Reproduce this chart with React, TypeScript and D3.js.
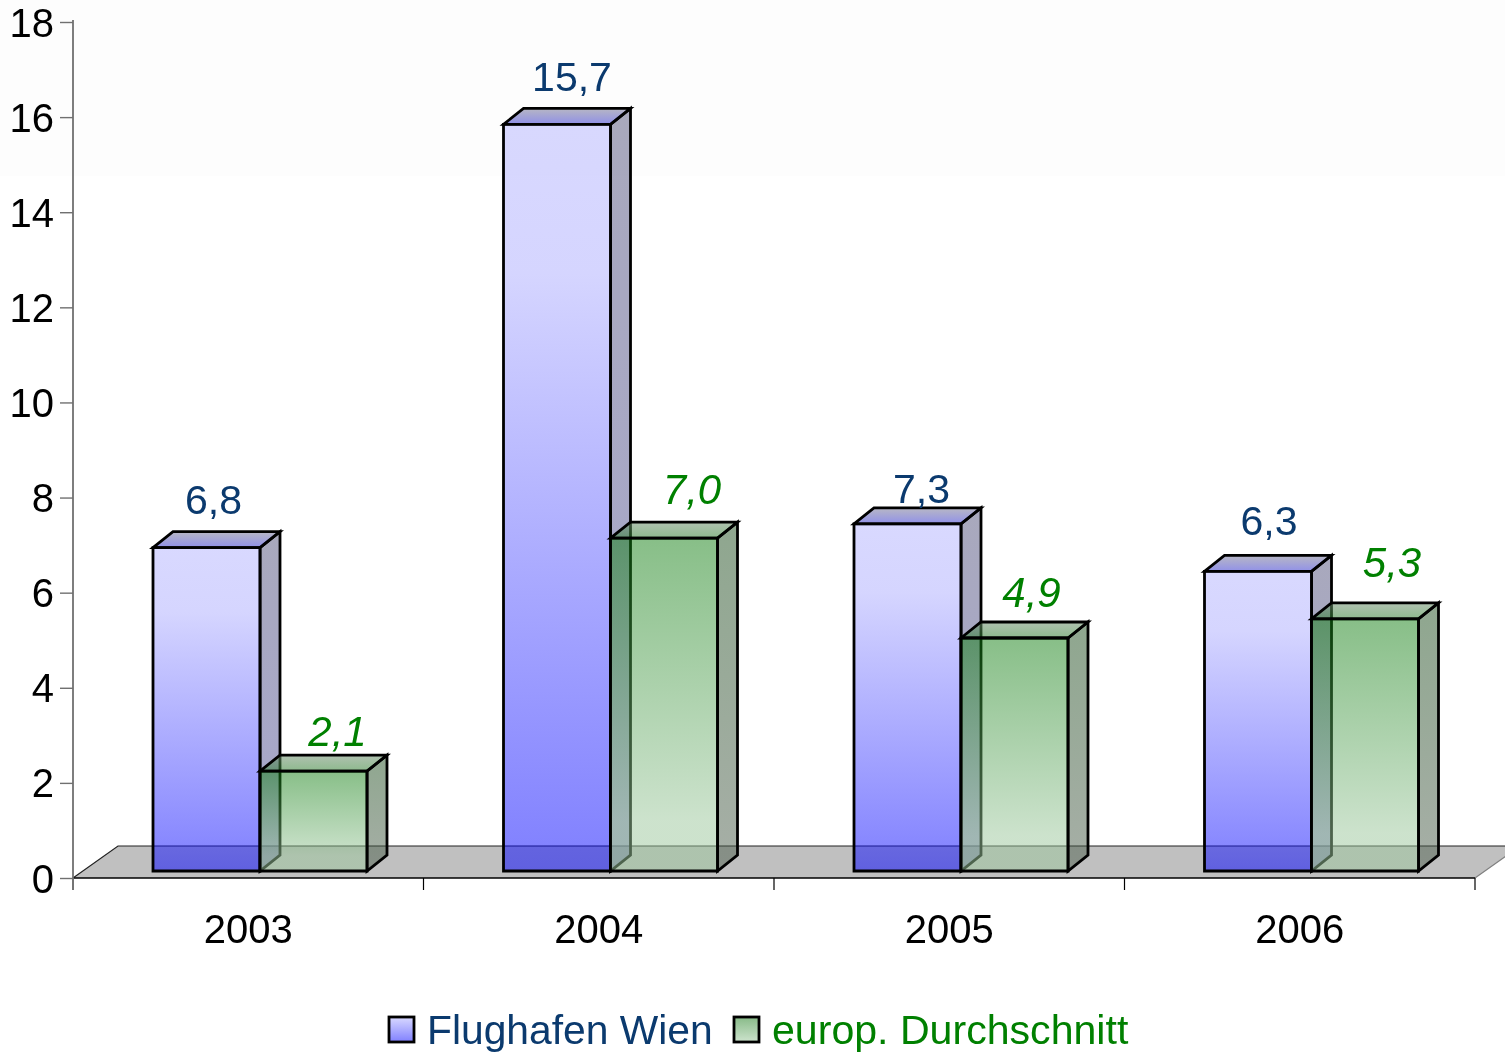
import React, { useEffect, useRef } from 'react';
import * as d3 from 'd3';

const years = ['2003', '2004', '2005', '2006'];
const wienValues = [6.8, 15.7, 7.3, 6.3];
const europValues = [2.1, 7.0, 4.9, 5.3];
const yTicks = [0, 2, 4, 6, 8, 10, 12, 14, 16, 18];
const seriesNames = ['Flughafen Wien', 'europ. Durchschnitt'];

// hand placed data labels in the original, offset from the top of each box
const wienLabelNudge = [[7, -18], [15, -17], [14, -5], [11, -20]];
const europLabelNudge = [[24, -9], [28, -18], [17, -15], [27, -26]];

const WIDTH = 1505;
const HEIGHT = 1052;
const DEPTH_X = 20;
const DEPTH_Y = 16;
const FLOOR_Y = 878;
const BAR_BASE_OFFSET = 7;
const FONT = '"Liberation Sans", Arial, sans-serif';
const BLUE = '#0b3a6e';
const GREEN = '#008000';

const y = d3.scaleLinear().domain([0, 18]).range([FLOOR_Y, 22]);
const x = d3.scaleBand().domain(years).range([73, 1475]);
const inner = d3.scaleBand().domain(seriesNames).range([80, 294]);

const fmt = (v: number) => v.toFixed(1).replace('.', ',');

const Box = ({ year, name, value, kind }: { year: string; name: string; value: number; kind: string }) => {
  const x0 = x(year)! + inner(name)!;
  const x1 = x0 + inner.bandwidth();
  const yTop = y(value) - BAR_BASE_OFFSET;
  const yBase = FLOOR_Y - BAR_BASE_OFFSET;
  const line = d3.line();
  const dx = DEPTH_X;
  const dy = DEPTH_Y;

  const front: [number, number][] = [[x0, yTop], [x1, yTop], [x1, yBase], [x0, yBase]];
  const side: [number, number][] = [[x1, yTop], [x1 + dx, yTop - dy], [x1 + dx, yBase - dy], [x1, yBase]];
  const top: [number, number][] = [[x0, yTop], [x0 + dx, yTop - dy], [x1 + dx, yTop - dy], [x1, yTop]];

  return (
    <g stroke="#000" strokeWidth={2.8} strokeLinejoin="miter">
      <path d={line(side) + 'Z'} fill={`url(#${kind}-side)`} />
      <path d={line(top) + 'Z'} fill={`url(#${kind}-top)`} />
      <path d={line(front) + 'Z'} fill={`url(#${kind}-front)`} />
    </g>
  );
};

const App = () => {
  const yAxisRef = useRef<SVGGElement>(null);
  const xAxisRef = useRef<SVGGElement>(null);

  useEffect(() => {
    const yAxis = d3.axisLeft(y).tickValues(yTicks).tickSize(13).tickPadding(6);
    const yG = d3.select(yAxisRef.current!).attr('transform', 'translate(73,0)').call(yAxis);
    yG.selectAll('.domain').attr('stroke', '#707070').attr('stroke-width', 1.8).attr('d', `M0,20V890`);
    yG.selectAll('line').attr('stroke', '#707070').attr('stroke-width', 1.4);
    yG.selectAll('text')
      .style('font-family', FONT)
      .style('font-size', '40px')
      .attr('fill', '#000')
      .attr('dy', '0.35em');

    const edges = x.domain().map(d => x(d)!).concat([x.range()[1]]);
    const xG = d3.select(xAxisRef.current!);
    xG.selectAll('*').remove();
    xG.selectAll('line')
      .data(edges)
      .enter().append('line')
      .attr('x1', d => d)
      .attr('x2', d => d)
      .attr('y1', FLOOR_Y)
      .attr('y2', 890)
      .attr('stroke', (d, i) => (i === 0 ? '#707070' : '#000'))
      .attr('stroke-width', 1.2);
    xG.selectAll('text')
      .data(years)
      .enter().append('text')
      .attr('x', d => x(d)! + x.bandwidth() / 2)
      .attr('y', 943)
      .attr('text-anchor', 'middle')
      .style('font-family', FONT)
      .style('font-size', '40px')
      .text(d => d);
  }, []);

  const floorLeft = x.range()[0];
  const floorRight = x.range()[1];
  const floor = d3.line()([
    [floorLeft, FLOOR_Y],
    [floorLeft + 45, FLOOR_Y - 32],
    [floorRight + 45, FLOOR_Y - 32],
    [floorRight, FLOOR_Y],
  ]) + 'Z';

  return (
    <svg
      width={WIDTH}
      height={HEIGHT}
      style={{ position: 'fixed', left: 0, top: 0, display: 'block' }}
      fontFamily={FONT}
    >
      <defs>
        <linearGradient id="wien-front" x1="0" y1="0" x2="0" y2="1">
          <stop offset="0" stopColor="#b3b3ff" stopOpacity={0.5} />
          <stop offset="0.2" stopColor="#acacff" stopOpacity={0.5} />
          <stop offset="1" stopColor="#0000ff" stopOpacity={0.5} />
        </linearGradient>
        <linearGradient id="wien-side" x1="0" y1="0" x2="0" y2="1">
          <stop offset="0" stopColor="#53537b" stopOpacity={0.5} />
          <stop offset="1" stopColor="#4f4f9f" stopOpacity={0.5} />
        </linearGradient>
        <linearGradient id="wien-top" x1="0" y1="0" x2="0" y2="1">
          <stop offset="0" stopColor="#7d7d95" stopOpacity={0.55} />
          <stop offset="1" stopColor="#3535d5" stopOpacity={0.55} />
        </linearGradient>
        <linearGradient id="europ-front" x1="0" y1="0" x2="0" y2="1">
          <stop offset="0" stopColor="#117f11" stopOpacity={0.5} />
          <stop offset="0.85" stopColor="#9bc79b" stopOpacity={0.5} />
          <stop offset="1" stopColor="#9bc79b" stopOpacity={0.5} />
        </linearGradient>
        <linearGradient id="europ-side" x1="0" y1="0" x2="0" y2="1">
          <stop offset="0" stopColor="#1f4f1f" stopOpacity={0.5} />
          <stop offset="1" stopColor="#4f5f4f" stopOpacity={0.5} />
        </linearGradient>
        <linearGradient id="europ-top" x1="0" y1="0" x2="0" y2="1">
          <stop offset="0" stopColor="#6f8f6f" stopOpacity={0.55} />
          <stop offset="1" stopColor="#2f7f2f" stopOpacity={0.55} />
        </linearGradient>
        <linearGradient id="wien-legend" x1="0" y1="0" x2="0" y2="1">
          <stop offset="0" stopColor="#d9d9ff" />
          <stop offset="1" stopColor="#8080ff" />
        </linearGradient>
        <linearGradient id="europ-legend" x1="0" y1="0" x2="0" y2="1">
          <stop offset="0" stopColor="#88bb88" />
          <stop offset="1" stopColor="#cde3cd" />
        </linearGradient>
      </defs>

      <rect width={WIDTH} height={176} fill="#fdfdfd" />

      <path d={floor} fill="#c0c0c0" stroke="none" />
      <path
        d={d3.line()([[floorLeft, FLOOR_Y], [floorLeft + 45, FLOOR_Y - 32], [floorRight + 45, FLOOR_Y - 32]])!}
        fill="none"
        stroke="#222"
        strokeWidth={1.2}
      />
      <path
        d={d3.line()([[floorRight, FLOOR_Y], [floorRight + 45, FLOOR_Y - 32]])!}
        fill="none"
        stroke="#808080"
        strokeWidth={1.2}
      />
      <line x1={floorLeft} x2={floorRight} y1={FLOOR_Y} y2={FLOOR_Y} stroke="#000" strokeWidth={1.6} />

      {years.map((yr, i) => (
        <Box key={yr} year={yr} name={seriesNames[0]} value={wienValues[i]} kind="wien" />
      ))}
      {years.map((yr, i) => (
        <Box key={yr} year={yr} name={seriesNames[1]} value={europValues[i]} kind="europ" />
      ))}

      <g ref={yAxisRef} />
      <g ref={xAxisRef} />

      {years.map((yr, i) => (
        <text
          key={yr}
          x={x(yr)! + inner(seriesNames[0])! + inner.bandwidth() / 2 + wienLabelNudge[i][0]}
          y={y(wienValues[i]) - BAR_BASE_OFFSET - DEPTH_Y + wienLabelNudge[i][1]}
          textAnchor="middle"
          fontSize={41}
          fill={BLUE}
        >
          {fmt(wienValues[i])}
        </text>
      ))}
      {years.map((yr, i) => (
        <text
          key={yr}
          x={x(yr)! + inner(seriesNames[1])! + inner.bandwidth() / 2 + europLabelNudge[i][0]}
          y={y(europValues[i]) - BAR_BASE_OFFSET - DEPTH_Y + europLabelNudge[i][1]}
          textAnchor="middle"
          fontSize={42}
          fontStyle="italic"
          fill={GREEN}
        >
          {fmt(europValues[i])}
        </text>
      ))}

      <g>
        <rect x={389} y={1017} width={25} height={25} fill="url(#wien-legend)" stroke="#000" strokeWidth={2.8} />
        <text x={427} y={1044} fontSize={40.8} fill={BLUE}>{seriesNames[0]}</text>
        <rect x={734} y={1017} width={25} height={25} fill="url(#europ-legend)" stroke="#000" strokeWidth={2.8} />
        <text x={772} y={1044} fontSize={41.1} fill={GREEN}>{seriesNames[1]}</text>
      </g>
    </svg>
  );
};

export default App;
